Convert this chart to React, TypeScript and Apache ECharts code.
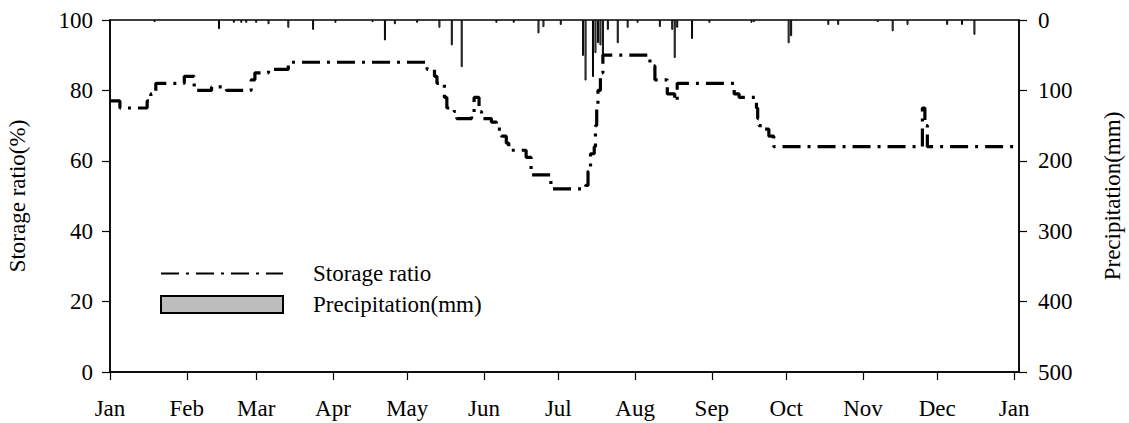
import React, { useEffect, useRef } from "react";
import * as echarts from "echarts";

// Month tick positions (day of year) and labels
const monthDays = [0, 31, 59, 90, 120, 151, 181, 212, 243, 273, 304, 334, 365];
const monthLabels = ["Jan", "Feb", "Mar", "Apr", "May", "Jun", "Jul", "Aug", "Sep", "Oct", "Nov", "Dec", "Jan"];

// Storage ratio (%) step breakpoints: day of year -> value from that day on
const storageDay = [0, 4, 15, 16.5, 18.5, 30, 34, 41, 47, 57, 58.5, 64, 72, 128, 131, 132, 135, 136, 139, 140, 146, 147, 149, 150, 154, 156, 158, 160, 161, 168, 170, 178, 192, 193, 194, 195.5, 196, 196.5, 197, 198, 199, 218, 220, 225, 228, 229, 252, 254, 261, 261.5, 262, 264, 266, 268, 328, 329, 330, 367];
const storageValue = [77, 75, 77, 79, 82, 84, 80, 81, 80, 83, 85, 86, 88, 86, 84, 82, 78, 75, 74, 72, 73, 78, 74, 72, 71, 69, 67, 65, 63, 61, 56, 52, 53, 57, 62, 64, 70, 75, 80, 85, 90, 87, 83, 79, 77, 82, 79, 78, 75, 72, 70, 69, 67, 64, 75, 70, 64, 64];

// Daily precipitation (mm)
const precipDay = [18, 44, 50, 53, 55, 59, 64, 72, 82, 91, 106, 111, 115, 124, 133, 138, 142, 156, 163, 173, 175, 182, 191, 192, 195, 196, 197, 198, 199, 201, 205, 209, 213, 222, 227, 228, 229, 235, 242, 259, 260, 274, 275, 290, 294, 310, 316, 322, 338, 344, 349];
const precipMm = [3, 13, 4, 4, 4, 4, 6, 11, 14, 4, 3, 29, 6, 4, 11, 36, 67, 4, 4, 19, 10, 7, 51, 86, 81, 47, 33, 36, 53, 14, 33, 11, 4, 10, 14, 54, 11, 27, 4, 4, 3, 33, 23, 7, 7, 3, 16, 7, 7, 7, 21];

const leftTicks = [0, 20, 40, 60, 80, 100];
const rightTicks = [0, 100, 200, 300, 400, 500];

const FONT = "Liberation Serif";

export default function App() {
  const ref = useRef<HTMLDivElement>(null);
  useEffect(() => {
    document.body.style.margin = "0";
    const chart = echarts.init(ref.current!, undefined, { renderer: "svg" });
    const text = { fontFamily: FONT, fontSize: 23, color: "#000" };
    chart.setOption({
      animation: false,
      grid: {
        left: 110,
        right: 110,
        top: 20,
        bottom: 51,
        outerBoundsMode: "none",
        containLabel: false,
        show: true,
        borderColor: "#000",
        borderWidth: 1.5,
        backgroundColor: "transparent",
      },
      legend: {
        orient: "vertical",
        left: 155,
        top: 257,
        itemWidth: 122,
        itemHeight: 17,
        itemGap: 8,
        selectedMode: false,
        textStyle: { ...text, padding: [0, 0, 0, 25] },
        data: [
          { name: "Storage ratio", itemStyle: { opacity: 0 } },
          { name: "Precipitation(mm)", icon: "rect" },
        ],
      },
      xAxis: {
        type: "value",
        min: 0,
        max: 367,
        splitLine: { show: false },
        axisLine: { lineStyle: { color: "#000", width: 1.5 } },
        axisTick: {
          customValues: monthDays,
          length: 8,
          lineStyle: { color: "#000", width: 1.2 },
        },
        axisLabel: {
          customValues: monthDays,
          margin: 25,
          ...text,
          formatter: (v: number) => monthLabels[monthDays.indexOf(Math.round(v))] ?? "",
        },
      },
      yAxis: [
        {
          type: "value",
          min: 0,
          max: 100,
          interval: 20,
          name: "Storage ratio(%)",
          nameLocation: "middle",
          nameGap: 81,
          nameRotate: 90,
          nameTextStyle: text,
          splitLine: { show: false },
          axisLine: { show: true, lineStyle: { color: "#000", width: 1.5 } },
          axisTick: { show: true, length: 8, lineStyle: { color: "#000", width: 1.2 } },
          axisLabel: { ...text, margin: 17, customValues: leftTicks },
        },
        {
          type: "value",
          min: 0,
          max: 500,
          interval: 100,
          inverse: true,
          position: "right",
          name: "Precipitation(mm)",
          nameLocation: "middle",
          nameGap: 82,
          nameRotate: 90,
          nameTextStyle: text,
          splitLine: { show: false },
          axisLine: { show: true, lineStyle: { color: "#000", width: 1.5 } },
          axisTick: { show: true, length: 8, lineStyle: { color: "#000", width: 1.2 } },
          axisLabel: { ...text, margin: 19, customValues: rightTicks },
        },
      ],
      series: [
        {
          name: "Precipitation(mm)",
          type: "bar",
          xAxisIndex: 0,
          yAxisIndex: 1,
          barWidth: 2,
          itemStyle: { color: "#bdbdbd", borderColor: "#000", borderWidth: 1 },
          data: precipDay.map((d, i) => [d, precipMm[i]]),
          z: 2,
        },
        {
          name: "Storage ratio",
          type: "line",
          xAxisIndex: 0,
          yAxisIndex: 0,
          step: "end",
          symbol: "none",
          showSymbol: false,
          lineStyle: { color: "#000", width: 3.2, type: [18, 7, 3, 7], cap: "butt" },
          itemStyle: { color: "#000" },
          data: storageDay.map((d, i) => [d, storageValue[i]]),
          z: 3,
        },
      ],
    });
    return () => chart.dispose();
  }, []);
  return <div ref={ref} style={{ width: 1129, height: 423 }} />;
}
